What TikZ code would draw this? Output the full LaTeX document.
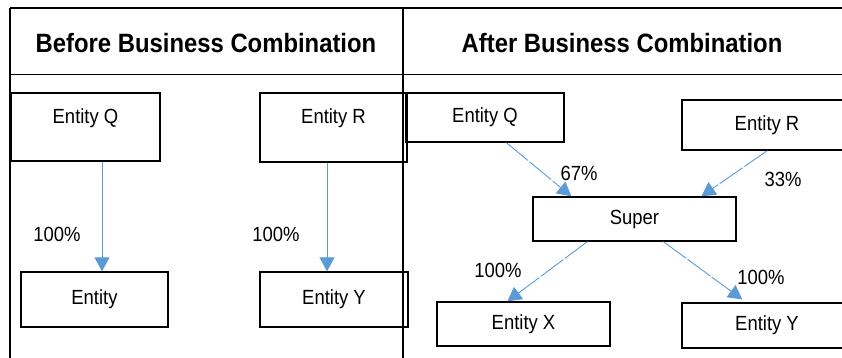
\documentclass[tikz,border=0pt]{standalone}
\usepackage{fontspec}
\setmainfont{Liberation Sans}[FakeStretch=0.9]
\usetikzlibrary{arrows.meta}
\definecolor{linkblue}{HTML}{5B9BD5}

\begin{document}
\begin{tikzpicture}[x=1pt,y=-1pt,
    box/.style={draw,line width=1.3pt,inner sep=0pt,font=\fontsize{20.5}{22}\selectfont},
    head/.style={font=\bfseries\fontsize{26.5}{28}\selectfont},
    pct/.style={font=\fontsize{20.5}{22}\selectfont},
    link/.style={draw=linkblue,line width=0.9pt,-{Triangle[width=15pt,length=14pt]},color=linkblue},
    gaplink/.style={link,dash pattern=on 28pt off 2pt}]

  \begin{scope}
    \clip (0,0) rectangle (842,358);

    % table rules
    \draw[line width=2pt] (10,8) -- (842,8);
    \draw[line width=2pt] (10,8) -- (10,358);
    \draw[line width=1.6pt] (403,8) -- (403,358);
    \draw[line width=1pt] (10,75) -- (842,75);

    \draw node at (206,43)[name=before,head]{Before Business Combination};
    \draw node at (622,43)[name=after,head]{After Business Combination};

    % before
    \draw node at (85.5,127)[name=qa,box,minimum width=149pt,text height=31pt,text depth=37pt]{Entity Q};
    \draw node at (333.5,127.5)[name=ra,box,minimum width=147pt,text height=31pt,text depth=38pt]{Entity R};
    \draw node at (94.5,299.5)[name=ea,box,minimum width=147pt,minimum height=55pt]{Entity};
    \draw node at (334,299.5)[name=ya,box,minimum width=148pt,minimum height=55pt]{Entity Y};
    \draw[link] ([xshift=16.5pt]qa.south) -- ([xshift=7.5pt]ea.north);
    \draw[link] ([xshift=-6.5pt]ra.south) -- ([xshift=-7pt]ya.north);
    \draw node at (57,234)[name=pqa,pct]{100\%};
    \draw node at (276,234)[name=pra,pct]{100\%};

    % after
    \draw node at (485,117.5)[name=qb,box,minimum width=158pt,minimum height=49pt]{Entity Q};
    \draw node at (767,125)[name=rb,box,minimum width=170pt,minimum height=50pt]{Entity R};
    \draw node at (634.5,219)[name=super,box,minimum width=203pt,minimum height=44pt]{Super};
    \draw node at (523.5,324)[name=xb,box,minimum width=173pt,minimum height=44pt]{Entity X};
    \draw node at (767,325.5)[name=yb,box,minimum width=170pt,minimum height=45pt]{Entity Y};
    \draw[gaplink] ([xshift=101pt]qb.south west) -- ([xshift=39pt]super.north west);
    \draw[gaplink] ([xshift=86pt]rb.south west) -- ([xshift=169pt]super.north west);
    \draw[gaplink] ([xshift=55pt]super.south west) -- ([xshift=71pt]xb.north west);
    \draw[gaplink,shorten >=5pt] ([xshift=131pt]super.south west) -- ([xshift=65pt]yb.north west);
    \draw node at (579,173)[name=pqb,pct]{67\%};
    \draw node at (783,179)[name=prb,pct]{33\%};
    \draw node at (498,270)[name=pxb,pct]{100\%};
    \draw node at (761,277)[name=pyb,pct]{100\%};
  \end{scope}

  \pgfresetboundingbox
  \path[use as bounding box] (0,0) rectangle (842,358);
\end{tikzpicture}
\end{document}
